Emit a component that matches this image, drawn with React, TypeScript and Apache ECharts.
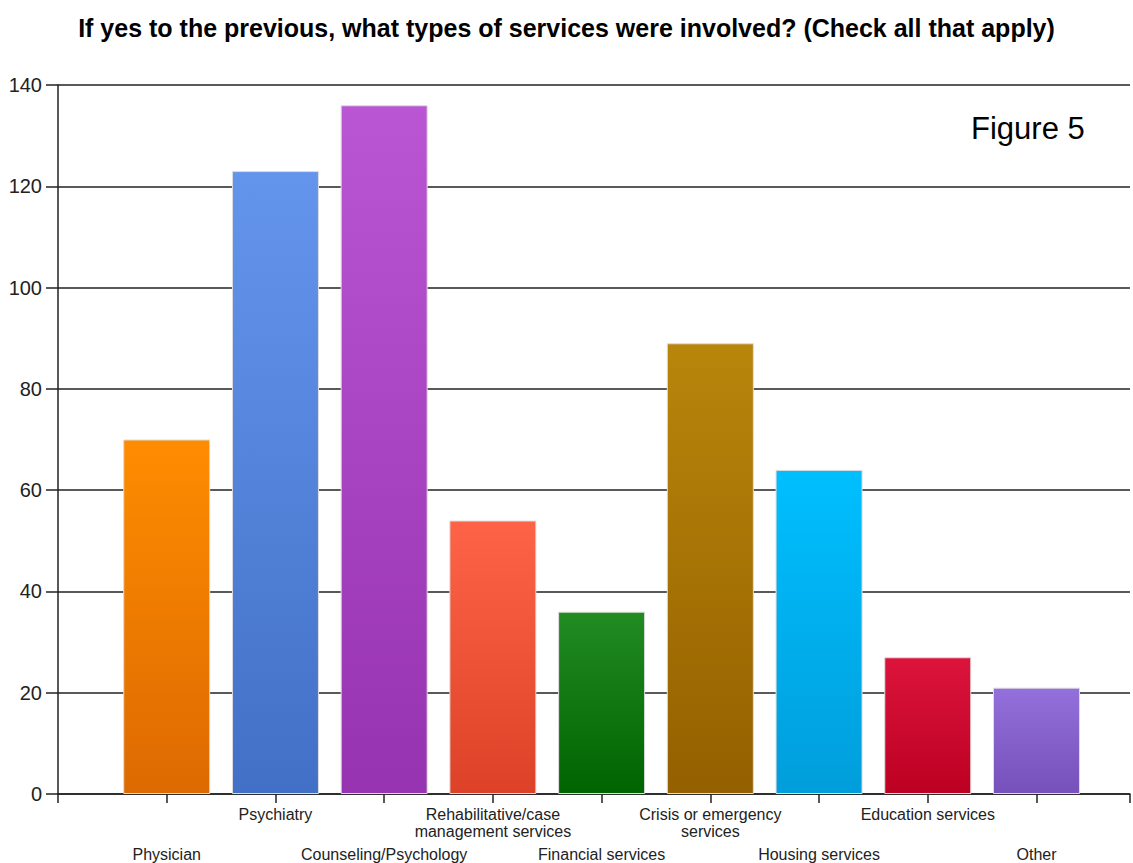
import React, { useEffect, useRef } from "react";
import * as echarts from "echarts";

const TITLE = "If yes to the previous, what types of services were involved? (Check all that apply)";
const FIGURE_LABEL = "Figure 5";
const categories = [
  "Physician",
  "Psychiatry",
  "Counseling/Psychology",
  "Rehabilitative/case\nmanagement services",
  "Financial services",
  "Crisis or emergency\nservices",
  "Housing services",
  "Education services",
  "Other",
];
const values = [70, 123, 136, 54, 36, 89, 64, 27, 21];
const topColors = ["#FF8C00", "#6495ED", "#BA55D3", "#FF6347", "#228B22", "#B8860B", "#00BFFF", "#DC143C", "#9370DB"];
const bottomColors = ["#DD6A00", "#4270C6", "#9633B0", "#DD4127", "#006400", "#946000", "#009EDB", "#BC0022", "#7650BB"];
const yTicks = { min: 0, max: 140, interval: 20 };

export default function App() {
  const ref = useRef<HTMLDivElement>(null);
  useEffect(() => {
    if (!ref.current) return;
    const chart = echarts.init(ref.current, undefined, { renderer: "svg" });
    const labelFor = (upper: boolean) => (v: number) => {
      if (Math.abs(v - Math.round(v)) > 1e-6) return "";
      const i = Math.round(v) - 1;
      if (i < 0 || i >= categories.length) return "";
      const isUpper = i % 2 === 1;
      return isUpper === upper ? categories[i] : "";
    };
    const baseX = {
      type: "value",
      min: 0,
      max: 9.86,
      interval: 1,
      position: "bottom",
      splitLine: { show: false },
    };
    chart.setOption({
      animation: false,
      backgroundColor: "#ffffff",
      title: {
        text: TITLE,
        left: "center",
        top: 10,
        textStyle: { fontFamily: "Liberation Sans", fontWeight: "bold", fontSize: 25, color: "#000" },
      },
      graphic: [
        {
          type: "text",
          x: 971,
          y: 128,
          style: {
            text: FIGURE_LABEL,
            fontFamily: "Liberation Sans",
            fontSize: 31,
            fill: "#000",
            verticalAlign: "middle",
          },
        },
      ],
      grid: { left: 58, right: 0, top: 85, bottom: 69 },
      xAxis: [
        {
          ...baseX,
          axisLine: { show: true, lineStyle: { color: "#222", width: 1.5 } },
          axisTick: { show: true, length: 9, lineStyle: { color: "#222", width: 1.5 } },
          axisLabel: {
            formatter: labelFor(true),
            margin: 12,
            fontFamily: "Liberation Sans",
            fontSize: 16,
            lineHeight: 17,
            color: "#222",
          },
        },
        {
          ...baseX,
          axisLine: { show: false },
          axisTick: { show: false },
          axisLabel: {
            formatter: labelFor(false),
            margin: 52,
            fontFamily: "Liberation Sans",
            fontSize: 16,
            lineHeight: 17,
            color: "#222",
          },
        },
      ],
      yAxis: {
        type: "value",
        ...yTicks,
        axisLine: { show: true, lineStyle: { color: "#222", width: 1.5 } },
        axisTick: { show: true, length: 12, lineStyle: { color: "#222", width: 1.5 } },
        axisLabel: { margin: 16, fontFamily: "Liberation Sans", fontSize: 20, color: "#222" },
        splitLine: { show: true, lineStyle: { color: "#222", width: 1.5 } },
      },
      series: [
        {
          type: "bar",
          xAxisIndex: 0,
          barWidth: 87,
          data: values.map((v, i) => ({
            value: [i + 1, v],
            itemStyle: {
              color: new echarts.graphic.LinearGradient(0, 0, 0, 1, [
                { offset: 0, color: topColors[i] },
                { offset: 1, color: bottomColors[i] },
              ]),
              borderColor: "#dddddd",
              borderWidth: 1,
            },
          })),
        },
      ],
    });
    return () => chart.dispose();
  }, []);
  return (
    <div
      ref={ref}
      style={{ position: "fixed", left: 0, top: 0, width: 1133, height: 863 }}
    />
  );
}
